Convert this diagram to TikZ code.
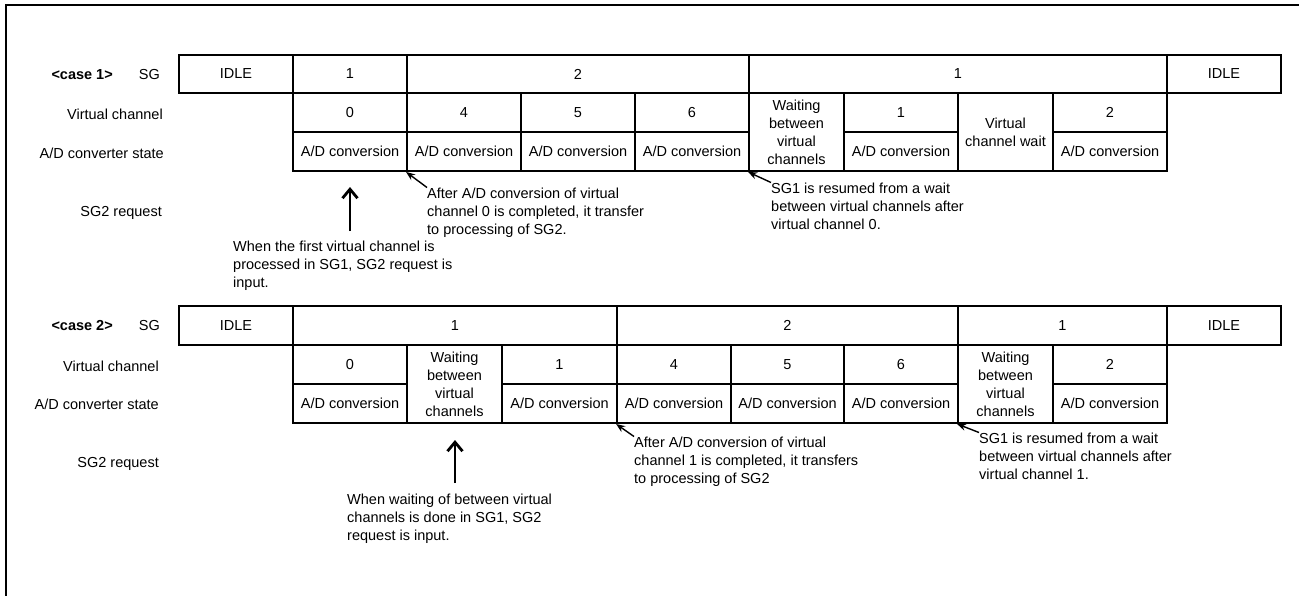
\documentclass[tikz,border=0pt]{standalone}
\usepackage{fontspec}
\setmainfont{Liberation Sans}
\usetikzlibrary{arrows.meta}
\newcommand\tcell[6]{\node[cellbox,minimum width={(#4-#2)*1pt},minimum height={(#5-#3)*1pt}] (#1) at ({(#2+#4)/2},{(#3+#5)/2}) {#6};}
\begin{document}
\begin{tikzpicture}[x=1pt,y=-1pt,
 every node/.style={font=\fontsize{14.5}{18}\selectfont},
 cellbox/.style={draw, line width=1.9pt, inner sep=0pt, align=center},
 lbl/.style={anchor=east, inner sep=0pt},
 note/.style={anchor=north west, inner sep=0pt, align=left},
 bigarrow/.style={line width=2.8pt, -{Straight Barb[length=9pt,width=15pt]}},
 smallarrow/.style={line width=1.4pt, -{Stealth[length=9pt,width=7pt]}},
]
\useasboundingbox (0,0) rectangle (1299,595);
\fill[white] (0,0) rectangle (1299,595);
\draw[line width=2.6pt] (6,600) -- (6,5) -- (1305,5);

% ---------------- case 1 ----------------
\node[lbl] (c1case) at (113,75) {\bfseries <case 1>};
\node[lbl] (c1sg) at (160,75) {SG};
\node[lbl] (c1vc) at (163,114) {Virtual channel};
\node[lbl] (c1ad) at (164,153) {A/D converter state};
\node[lbl] (c1req) at (162,213) {SG2 request};

\tcell{c1s1}{179}{55}{293}{93}{IDLE}
\tcell{c1s2}{293}{55}{407}{93}{1}
\tcell{c1s3}{407}{55}{749}{93}{2}
\tcell{c1s4}{749}{55}{1167}{93}{1}
\tcell{c1s5}{1167}{55}{1281}{93}{IDLE}

\tcell{c1v0}{293}{93}{407}{132}{0}
\tcell{c1v4}{407}{93}{521}{132}{4}
\tcell{c1v5}{521}{93}{635}{132}{5}
\tcell{c1v6}{635}{93}{749}{132}{6}
\tcell{c1w1}{749}{93}{844}{171}{Waiting\\between\\virtual\\channels}
\tcell{c1v1}{844}{93}{958}{132}{1}
\tcell{c1w2}{958}{93}{1053}{171}{Virtual\\channel wait}
\tcell{c1v2}{1053}{93}{1167}{132}{2}

\tcell{c1a0}{293}{132}{407}{171}{A/D conversion}
\tcell{c1a4}{407}{132}{521}{171}{A/D conversion}
\tcell{c1a5}{521}{132}{635}{171}{A/D conversion}
\tcell{c1a6}{635}{132}{749}{171}{A/D conversion}
\tcell{c1a1}{844}{132}{958}{171}{A/D conversion}
\tcell{c1a2}{1053}{132}{1167}{171}{A/D conversion}

\node[note] (n1a) at (233,240.5) {When the first virtual channel is\\processed in SG1, SG2 request is\\input.};
\node[note] (n1b) at (427,187.5) {After A/D conversion of virtual\\channel 0 is completed, it transfer\\to processing of SG2.};
\node[note] (n1c) at (771,182.5) {SG1 is resumed from a wait\\between virtual channels after\\virtual channel 0.};

\coordinate (u1s) at (350,231);
\coordinate (u1e) at (350,187);
\draw[bigarrow] (u1s) -- (u1e);
\draw[smallarrow] (n1b.north west) -- (c1a4.south west);
\draw[smallarrow] (n1c.north west) -- (c1w1.south west);

% ---------------- case 2 ----------------
\node[lbl] (c2case) at (113,326) {\bfseries <case 2>};
\node[lbl] (c2sg) at (160,326) {SG};
\node[lbl] (c2vc) at (159,366) {Virtual channel};
\node[lbl] (c2ad) at (159,404) {A/D converter state};
\node[lbl] (c2req) at (159,464) {SG2 request};

\tcell{c2s1}{179}{306}{293}{345}{IDLE}
\tcell{c2s2}{293}{306}{617}{345}{1}
\tcell{c2s3}{617}{306}{958}{345}{2}
\tcell{c2s4}{958}{306}{1167}{345}{1}
\tcell{c2s5}{1167}{306}{1281}{345}{IDLE}

\tcell{c2v0}{293}{345}{407}{384}{0}
\tcell{c2w1}{407}{345}{502}{423}{Waiting\\between\\virtual\\channels}
\tcell{c2v1}{502}{345}{617}{384}{1}
\tcell{c2v4}{617}{345}{731}{384}{4}
\tcell{c2v5}{731}{345}{844}{384}{5}
\tcell{c2v6}{844}{345}{958}{384}{6}
\tcell{c2w2}{958}{345}{1053}{423}{Waiting\\between\\virtual\\channels}
\tcell{c2v2}{1053}{345}{1167}{384}{2}

\tcell{c2a0}{293}{384}{407}{423}{A/D conversion}
\tcell{c2a1}{502}{384}{617}{423}{A/D conversion}
\tcell{c2a4}{617}{384}{731}{423}{A/D conversion}
\tcell{c2a5}{731}{384}{844}{423}{A/D conversion}
\tcell{c2a6}{844}{384}{958}{423}{A/D conversion}
\tcell{c2a2}{1053}{384}{1167}{423}{A/D conversion}

\node[note] (n2a) at (347,493.5) {When waiting of between virtual\\channels is done in SG1, SG2\\request is input.};
\node[note] (n2b) at (634,436.5) {After A/D conversion of virtual\\channel 1 is completed, it transfers\\to processing of SG2};
\node[note] (n2c) at (979,432.5) {SG1 is resumed from a wait\\between virtual channels after\\virtual channel 1.};

\coordinate (u2s) at (455,483);
\coordinate (u2e) at (455,440);
\draw[bigarrow] (u2s) -- (u2e);
\draw[smallarrow] (n2b.north west) -- (c2a4.south west);
\draw[smallarrow] (n2c.north west) -- (c2w2.south west);
\end{tikzpicture}
\end{document}
